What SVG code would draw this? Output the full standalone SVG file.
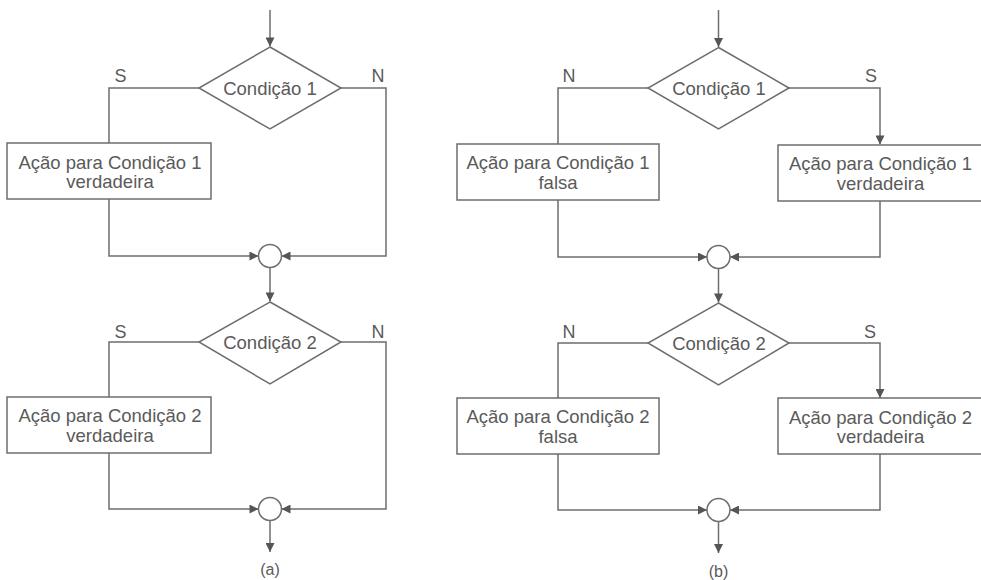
<svg xmlns="http://www.w3.org/2000/svg" width="981" height="580" viewBox="0 0 981 580">
  <style>
    .shape { fill: #ffffff; stroke: #6e6e6e; stroke-width: 1.5; }
    .line { fill: none; stroke: #6e6e6e; stroke-width: 1.5; }
    .txt { font-family: "Liberation Sans", Arial, sans-serif; font-size: 18.5px; fill: #5a5a5a; text-anchor: middle; }
    .lbl { font-family: "Liberation Sans", Arial, sans-serif; font-size: 18px; fill: #5a5a5a; text-anchor: middle; }
    .cap { font-family: "Liberation Sans", Arial, sans-serif; font-size: 16px; fill: #5a5a5a; text-anchor: middle; }
  </style>
  <defs>
    <marker id="arrow" viewBox="0 0 10 10" markerUnits="userSpaceOnUse" markerWidth="10" markerHeight="9" refX="10" refY="5" orient="auto">
      <path d="M0,0 L10,5 L0,10 z" fill="#555555"/>
    </marker>
  </defs>
  <rect width="981" height="580" fill="#ffffff"/>

  <!-- connectors -->
  <g id="connectors" class="line">
    <!-- (a) first decision -->
    <path d="M270,10 V46.5" marker-end="url(#arrow)"/>
    <path d="M199,88 H109 V143"/>
    <path d="M109,199 V256 H258.5" marker-end="url(#arrow)"/>
    <path d="M341,88 H386 V256 H281.5" marker-end="url(#arrow)"/>
    <path d="M270,267.5 V301.5" marker-end="url(#arrow)"/>
    <!-- (a) second decision -->
    <path d="M199,342 H109 V397"/>
    <path d="M109,453 V509 H258.5" marker-end="url(#arrow)"/>
    <path d="M341,342 H386 V509 H281.5" marker-end="url(#arrow)"/>
    <path d="M270,520.5 V552" marker-end="url(#arrow)"/>

    <!-- (b) first decision -->
    <path d="M718.5,10 V47" marker-end="url(#arrow)"/>
    <path d="M648,88 H558 V144"/>
    <path d="M789,88 H880 V144.5" marker-end="url(#arrow)"/>
    <path d="M558,200 V257 H707" marker-end="url(#arrow)"/>
    <path d="M880,201 V257 H730" marker-end="url(#arrow)"/>
    <path d="M718.5,268.5 V302.5" marker-end="url(#arrow)"/>
    <!-- (b) second decision -->
    <path d="M648,343 H558 V398"/>
    <path d="M789,343 H880 V398" marker-end="url(#arrow)"/>
    <path d="M558,454 V510 H707" marker-end="url(#arrow)"/>
    <path d="M880,454 V510 H730" marker-end="url(#arrow)"/>
    <path d="M718.5,521.5 V553" marker-end="url(#arrow)"/>
  </g>

  <!-- (a) nodes -->
  <g id="a-cond1">
    <polygon class="shape" points="270,47 341,88 270,129 199,88"/>
    <text class="txt" x="270" y="94.5">Condição 1</text>
  </g>
  <g id="a-act1">
    <rect class="shape" x="7" y="143" width="204" height="56"/>
    <text class="txt" x="110" y="168.5">Ação para Condição 1</text>
    <text class="txt" x="110" y="188">verdadeira</text>
  </g>
  <g id="a-join1">
    <circle class="shape" cx="270" cy="256" r="11.5"/>
  </g>
  <g id="a-cond2">
    <polygon class="shape" points="270,302 341,342 270,384 199,342"/>
    <text class="txt" x="270" y="348.5">Condição 2</text>
  </g>
  <g id="a-act2">
    <rect class="shape" x="7" y="397" width="204" height="56"/>
    <text class="txt" x="110" y="422">Ação para Condição 2</text>
    <text class="txt" x="110" y="441.5">verdadeira</text>
  </g>
  <g id="a-join2">
    <circle class="shape" cx="270" cy="509" r="11.5"/>
  </g>
  <g id="a-labels">
    <text class="lbl" x="120.5" y="82">S</text>
    <text class="lbl" x="378" y="82">N</text>
    <text class="lbl" x="120.5" y="337.5">S</text>
    <text class="lbl" x="378" y="337.5">N</text>
    <text class="cap" x="270" y="575">(a)</text>
  </g>

  <!-- (b) nodes -->
  <g id="b-cond1">
    <polygon class="shape" points="718.5,47.5 789,88 718.5,129 648,88"/>
    <text class="txt" x="719" y="94.5">Condição 1</text>
  </g>
  <g id="b-act1-false">
    <rect class="shape" x="457" y="144" width="202" height="56"/>
    <text class="txt" x="558" y="169">Ação para Condição 1</text>
    <text class="txt" x="558" y="188.5">falsa</text>
  </g>
  <g id="b-act1-true">
    <rect class="shape" x="778" y="145" width="206" height="56"/>
    <text class="txt" x="880.5" y="170">Ação para Condição 1</text>
    <text class="txt" x="880.5" y="189.5">verdadeira</text>
  </g>
  <g id="b-join1">
    <circle class="shape" cx="718.5" cy="257" r="11.5"/>
  </g>
  <g id="b-cond2">
    <polygon class="shape" points="718.5,303 789,343 718.5,385 648,343"/>
    <text class="txt" x="719" y="349.5">Condição 2</text>
  </g>
  <g id="b-act2-false">
    <rect class="shape" x="457" y="398" width="202" height="56"/>
    <text class="txt" x="558" y="423">Ação para Condição 2</text>
    <text class="txt" x="558" y="442.5">falsa</text>
  </g>
  <g id="b-act2-true">
    <rect class="shape" x="778" y="398" width="206" height="56"/>
    <text class="txt" x="880.5" y="423.5">Ação para Condição 2</text>
    <text class="txt" x="880.5" y="443">verdadeira</text>
  </g>
  <g id="b-join2">
    <circle class="shape" cx="718.5" cy="510" r="11.5"/>
  </g>
  <g id="b-labels">
    <text class="lbl" x="569" y="82">N</text>
    <text class="lbl" x="871" y="82">S</text>
    <text class="lbl" x="569" y="337.5">N</text>
    <text class="lbl" x="870" y="337.5">S</text>
    <text class="cap" x="718.5" y="577">(b)</text>
  </g>
</svg>
